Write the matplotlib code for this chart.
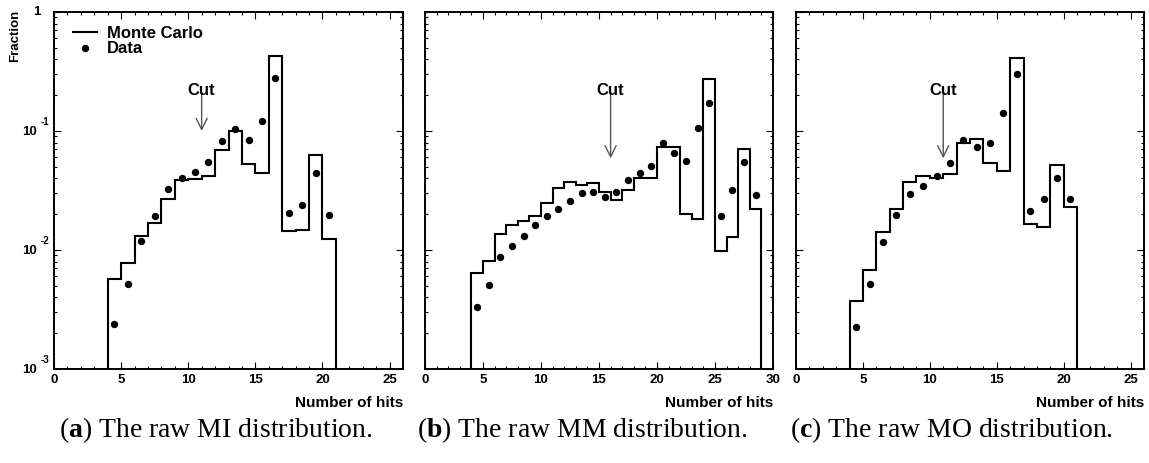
import matplotlib
matplotlib.use("Agg")
import matplotlib.pyplot as plt
from matplotlib.lines import Line2D
from matplotlib.ticker import MultipleLocator, LogLocator, NullFormatter

plt.rcParams['font.family'] = 'Liberation Sans'
plt.rcParams['font.weight'] = 'bold'
plt.rcParams['mathtext.fontset'] = 'custom'
plt.rcParams['mathtext.rm'] = 'Liberation Serif'
plt.rcParams['mathtext.bf'] = 'Liberation Serif:bold'

# hit-count fractions per unit bin, first bin starts at 4 hits
mi_mc = [0.00567, 0.00773, 0.0132, 0.0168, 0.0268, 0.0388, 0.0395, 0.0421, 0.0692,
         0.100, 0.0528, 0.0441, 0.427, 0.0145, 0.0146, 0.0629, 0.01245]
mi_data = [0.00239, 0.00521, 0.01197, 0.0194, 0.0323, 0.0400, 0.0452, 0.0549, 0.0829,
           0.1045, 0.0845, 0.1206, 0.277, 0.0206, 0.0239, 0.0446, 0.0195]

mm_mc = [0.00645, 0.00813, 0.01355, 0.0162, 0.0174, 0.0194, 0.0246, 0.0332, 0.0375,
         0.0352, 0.0368, 0.0309, 0.0265, 0.0319, 0.0400, 0.0402, 0.0729, 0.0729,
         0.0200, 0.0182, 0.275, 0.00987, 0.01286, 0.0702, 0.0220]
mm_data = [0.00334, 0.00508, 0.00879, 0.01087, 0.0132, 0.0163, 0.0193, 0.0220, 0.0256,
           0.0301, 0.0305, 0.0277, 0.0309, 0.0385, 0.0441, 0.0511, 0.0798, 0.0649,
           0.0563, 0.1053, 0.171, 0.0194, 0.0317, 0.0553, 0.0288]

mo_mc = [0.00373, 0.00679, 0.01417, 0.0220, 0.0371, 0.0421, 0.0400, 0.0433, 0.0788,
         0.0857, 0.0542, 0.0464, 0.413, 0.0164, 0.0155, 0.0518, 0.0229]
mo_data = [0.00225, 0.00518, 0.01175, 0.0197, 0.0297, 0.0347, 0.0421, 0.0542, 0.084,
           0.0738, 0.0788, 0.1425, 0.299, 0.0214, 0.0267, 0.0405, 0.0268]

first_bin = 4
x_max = [26, 30, 26]
cut_hits = [11, 16, 11]
cut_tip = [0.1, 0.059, 0.059]
captions = [r"($\mathbf{a}$) The raw MI distribution.",
            r"($\mathbf{b}$) The raw MM distribution.",
            r"($\mathbf{c}$) The raw MO distribution."]

W, H = 1149, 463
fig = plt.figure(figsize=(W / 100, H / 100), dpi=100)

ax_left = [54, 425, 796]
ax_width = [349, 348, 348]
caption_x = [216, 582, 952]
YMIN = 1e-3

series = [(mi_mc, mi_data), (mm_mc, mm_data), (mo_mc, mo_data)]

for i, (mc, data) in enumerate(series):
    ax = fig.add_axes([ax_left[i] / W, 94 / H, ax_width[i] / W, 357 / H])
    edges = list(range(first_bin, first_bin + len(mc) + 1))
    centers = [e + 0.5 for e in edges[:-1]]

    ax.stairs(mc, edges, baseline=YMIN, color='black', lw=1.5)
    ax.plot(centers, data, 'o', color='black', ms=4.3, ls='none')

    ax.set_yscale('log')
    ax.set_ylim(YMIN, 1)
    ax.set_xlim(0, x_max[i])

    ax.xaxis.set_major_locator(MultipleLocator(5))
    ax.xaxis.set_minor_locator(MultipleLocator(1))
    ax.yaxis.set_major_locator(LogLocator(base=10, numticks=10))
    ax.yaxis.set_minor_locator(LogLocator(base=10, subs=range(2, 10), numticks=10))
    ax.yaxis.set_minor_formatter(NullFormatter())
    ax.tick_params(which='both', direction='in', top=True, right=True, width=0.8)
    ax.tick_params(which='major', length=5)
    ax.tick_params(which='minor', length=2.5)
    ax.tick_params(axis='x', labelsize=9.5, pad=3.5)
    ax.tick_params(axis='y', labelleft=False)
    for s in ax.spines.values():
        s.set_linewidth(1.4)

    # cut marker
    ax.annotate('', xy=(cut_hits[i], cut_tip[i]), xytext=(cut_hits[i], 0.21),
                arrowprops=dict(arrowstyle='->,head_length=0.5,head_width=0.25',
                                color='#555555', lw=1, shrinkA=0, shrinkB=0,
                                mutation_scale=16))
    ax.text(cut_hits[i], 0.2, 'Cut', ha='center', va='baseline', fontsize=12)

    ax.text(1.0, -0.1064, 'Number of hits', transform=ax.transAxes,
            ha='right', va='baseline', fontsize=11)

    fig.text(caption_x[i] / W, 1 - 437 / H, captions[i], ha='center', va='baseline',
             fontsize=20, family='Liberation Serif', weight='normal')

    if i == 0:
        # ROOT-style decade labels
        ytr = ax.get_yaxis_transform()
        ax.annotate('1', xy=(0, 1), xycoords=ytr, xytext=(-14 * 0.72, 0),
                    textcoords='offset points', ha='right', va='center', fontsize=9.5)
        for v, e in [(1e-1, '-1'), (1e-2, '-2'), (1e-3, '-3')]:
            ax.annotate('10', xy=(0, v), xycoords=ytr, xytext=(-17 * 0.72, -1 * 0.72),
                        textcoords='offset points', ha='right', va='center', fontsize=9.5)
            ax.annotate(e, xy=(0, v), xycoords=ytr, xytext=(-13 * 0.72, 9 * 0.72),
                        textcoords='offset points', ha='left', va='center', fontsize=7)

        handles = [Line2D([], [], color='black', lw=1.5),
                   Line2D([], [], marker='o', ls='none', color='black', ms=4.3)]
        ax.legend(handles, ['Monte Carlo', 'Data'], loc='upper left',
                  bbox_to_anchor=(0.054, 0.962), frameon=False, borderpad=0,
                  borderaxespad=0, handlelength=1.45, handletextpad=0.6,
                  labelspacing=0.05, prop={'weight': 'bold', 'size': 12})

fig.text(15.5 / W, 1 - 10 / H, 'Fraction', rotation=90, ha='center', va='top',
         fontsize=9.5)

fig.savefig('out.png', dpi=100)
